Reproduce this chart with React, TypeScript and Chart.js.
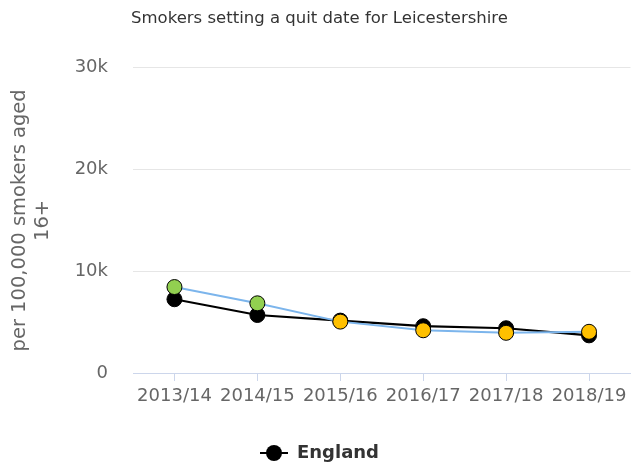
import React, { useEffect, useRef } from "react";
import { Chart, registerables } from "chart.js";

Chart.register(...registerables);

const chartTitle = "Smokers setting a quit date for Leicestershire";
const categories = ["2013/14", "2014/15", "2015/16", "2016/17", "2017/18", "2018/19"];
const englandValues = [7250, 5700, 5150, 4600, 4400, 3700];
const leicsValues = [8450, 6850, 5050, 4200, 3950, 4050];
const leicsPointColors = ["#92D050", "#92D050", "#FFC000", "#FFC000", "#FFC000", "#FFC000"];
const yTicks = [0, 10000, 20000, 30000];
const yTitle = ["per 100,000 smokers aged", "16+"];
const legendLabel = "England";

const FONT = "'DejaVu Sans', sans-serif";

export default function App() {
  const ref = useRef<HTMLCanvasElement | null>(null);

  useEffect(() => {
    if (!ref.current) return;
    const sym = document.createElement("canvas");
    sym.width = 28;
    sym.height = 18;
    const sctx = sym.getContext("2d")!;
    sctx.strokeStyle = "#000";
    sctx.lineWidth = 2;
    sctx.beginPath();
    sctx.moveTo(0, 9);
    sctx.lineTo(28, 9);
    sctx.stroke();
    sctx.fillStyle = "#000";
    sctx.beginPath();
    sctx.arc(14, 9, 8, 0, Math.PI * 2);
    sctx.fill();

    const chart = new Chart(ref.current, {
      type: "line",
      data: {
        labels: categories,
        datasets: [
          {
            label: "Leicestershire",
            data: leicsValues,
            borderColor: "#7CB5EC",
            borderWidth: 2,
            pointBackgroundColor: leicsPointColors,
            pointBorderColor: "#000",
            pointBorderWidth: 1,
            pointRadius: 7.5,
            tension: 0,
          },
          {
            label: "England",
            data: englandValues,
            borderColor: "#000",
            borderWidth: 2.2,
            pointBackgroundColor: "#000",
            pointBorderColor: "#000",
            pointBorderWidth: 1,
            pointRadius: 7.5,
            tension: 0,
          },
        ],
      },
      options: {
        animation: false,
        responsive: true,
        maintainAspectRatio: false,
        layout: { padding: 0 },
        plugins: {
          tooltip: { enabled: false },
          title: {
            display: true,
            text: chartTitle,
            color: "#333",
            font: { family: FONT, size: 16.5, weight: "normal" },
            padding: { top: 9, bottom: 39 },
          },
          legend: {
            display: true,
            position: "bottom",
            onClick: () => {},
            labels: {
              usePointStyle: true,
              pointStyleWidth: 28,
              padding: 1,
              color: "#333",
              font: { family: FONT, size: 18, weight: "bold" },
              generateLabels: () => [
                {
                  text: legendLabel,
                  pointStyle: sym as any,
                  fillStyle: "#000",
                  strokeStyle: "#000",
                  lineWidth: 0,
                  hidden: false,
                  datasetIndex: 1,
                  fontColor: "#333",
                } as any,
              ],
            },
          },
        },
        scales: {
          x: {
            offset: true,
            afterFit: (s: any) => {
              s.height = 70;
            },
            grid: {
              drawOnChartArea: false,
              drawTicks: true,
              tickLength: 8,
              color: "#ccd6eb",
              offset: false,
            },
            border: { display: true, color: "#ccd6eb", width: 1 },
            ticks: {
              color: "#666",
              padding: 5,
              maxRotation: 0,
              autoSkip: false,
              font: { family: FONT, size: 18 },
            },
          },
          y: {
            min: 0,
            max: 30000,
            afterFit: (s: any) => {
              s.width = 133;
            },
            afterBuildTicks: (s: any) => {
              s.ticks = yTicks.map((v) => ({ value: v }));
            },
            grid: { color: "#e6e6e6", drawTicks: false, lineWidth: 1 },
            border: { display: false },
            ticks: {
              color: "#666",
              padding: 25,
              font: { family: FONT, size: 18 },
              callback: (v: any) => (v === 0 ? "0" : `${Number(v) / 1000}k`),
            },
            title: {
              display: true,
              text: yTitle,
              color: "#666",
              font: { family: FONT, size: 19.5, lineHeight: 1.18 },
              padding: { top: 8.5, bottom: 0 },
            },
          },
        },
      },
    });
    return () => chart.destroy();
  }, []);

  return (
    <div style={{ position: "fixed", left: 0, top: 0, width: 636, height: 464, overflow: "hidden", background: "#fff" }}>
      <div style={{ position: "relative", width: 639, height: 472 }}>
        <canvas ref={ref} />
      </div>
    </div>
  );
}
